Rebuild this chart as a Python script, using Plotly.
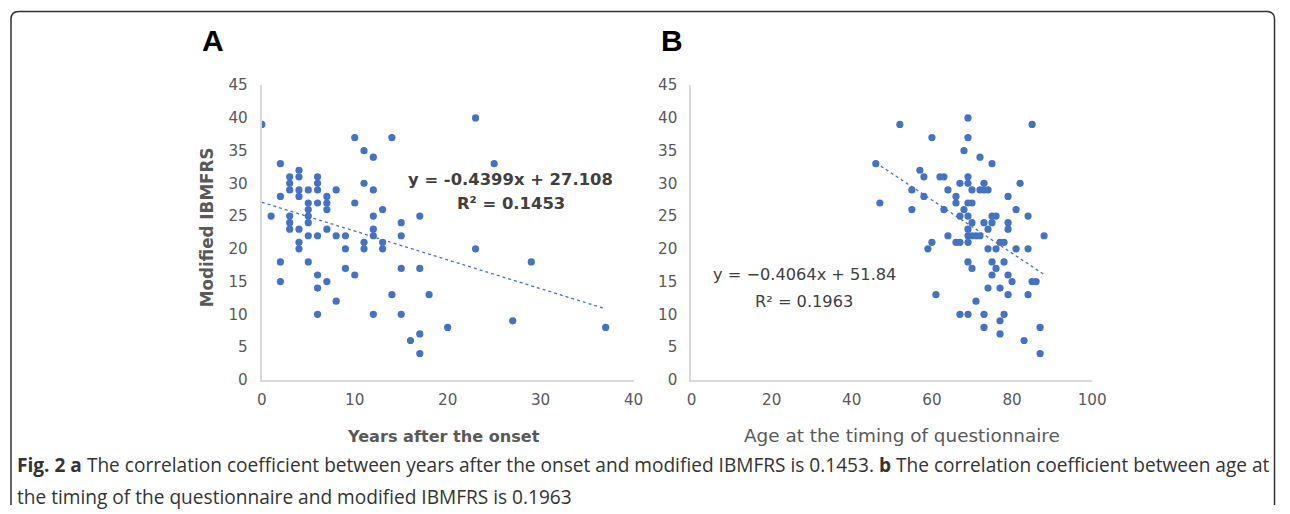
import plotly.graph_objects as go

W, H = 1290, 514
# calibration between figure pixels and the captured picture
SX, OX, SY, OY = 0.986, 4.0, 0.963, 9.0

# ---- Panel A data: years after onset vs modified IBMFRS ----
years_a = [0, 1, 2, 2, 2, 2, 3, 3, 3, 3, 3, 3, 4, 4, 4, 4, 4, 4, 4,
           5, 5, 5, 5, 5, 5, 5, 6, 6, 6, 6, 6, 6, 6, 6, 7, 7, 7, 7, 7,
           8, 8, 8, 9, 9, 9, 10, 10, 10, 11, 11, 11, 11, 12, 12, 12, 12, 12, 12,
           13, 13, 13, 14, 14, 15, 15, 15, 15, 16, 17, 17, 17, 17, 18, 20,
           23, 23, 25, 27, 29, 37]
score_a = [39, 25, 33, 28, 18, 15, 31, 30, 29, 25, 24, 23, 32, 31, 29, 28, 23, 21, 20,
           29, 27, 26, 25, 24, 22, 18, 31, 30, 29, 27, 22, 16, 14, 10, 28, 27, 26, 23, 15,
           29, 22, 12, 22, 20, 17, 37, 27, 16, 35, 30, 21, 20, 34, 29, 25, 23, 22, 10,
           26, 21, 20, 37, 13, 24, 22, 17, 10, 6, 25, 17, 7, 4, 13, 8,
           40, 20, 33, 9, 18, 8]
slope_a, intercept_a = -0.4399, 27.108

# ---- Panel B data: age at questionnaire vs modified IBMFRS ----
age_b = [46, 47, 52, 55, 55, 57, 58, 58, 59, 60, 60, 61, 62, 63, 63, 64, 64,
         66, 66, 66, 67, 67, 67, 67, 68, 68, 69, 69, 69, 69, 70, 69, 69, 69, 69, 69, 69, 69,
         70, 70, 70, 70, 71, 72, 71, 72, 72, 73, 74, 73, 73, 73, 73, 74, 74, 74,
         75, 75, 76, 75, 75, 75, 76, 76, 77, 78, 77, 77, 77, 78, 78,
         79, 79, 79, 79, 79, 80, 81, 81, 82, 83, 84, 84, 84, 85, 85, 86, 87, 87, 88]
score_b = [33, 27, 39, 29, 26, 32, 31, 28, 20, 37, 21, 13, 31, 31, 26, 29, 22,
           28, 27, 21, 21, 30, 25, 10, 35, 26, 40, 37, 31, 30, 27, 27, 25, 23, 22, 21, 18, 10,
           29, 24, 17, 22, 22, 22, 12, 34, 29, 29, 29, 30, 24, 10, 8, 23, 20, 14,
           33, 25, 25, 24, 18, 16, 20, 17, 21, 21, 14, 9, 7, 18, 10,
           28, 24, 23, 16, 13, 15, 26, 20, 30, 6, 25, 20, 13, 39, 15, 15, 8, 4, 22]
slope_b, intercept_b = -0.4064, 51.84

y_ticks = [0, 5, 10, 15, 20, 25, 30, 35, 40, 45]
x_ticks_a = [0, 10, 20, 30, 40]
x_ticks_b = [0, 20, 40, 60, 80, 100]

BLUE = "#4472C4"
TICK = "#595959"
AXL = "#D9D9D9"
XL = "DejaVu Sans"

fig = go.Figure()


def trend(xs, m, c):
    x0, x1 = min(xs), max(xs)
    return [x0, x1], [m * x0 + c, m * x1 + c]


fig.add_trace(go.Scatter(x=years_a, y=score_a, mode="markers",
                         marker=dict(color=BLUE, size=7.2), xaxis="x", yaxis="y",
                         showlegend=False, hoverinfo="skip"))
tx, ty = trend(years_a, slope_a, intercept_a)
fig.add_trace(go.Scatter(x=tx, y=ty, mode="lines",
                         line=dict(color=BLUE, width=1.3, dash="dot"),
                         xaxis="x", yaxis="y", showlegend=False, hoverinfo="skip"))

fig.add_trace(go.Scatter(x=age_b, y=score_b, mode="markers",
                         marker=dict(color=BLUE, size=7.2), xaxis="x2", yaxis="y2",
                         showlegend=False, hoverinfo="skip"))
tx, ty = trend(age_b, slope_b, intercept_b)
fig.add_trace(go.Scatter(x=tx, y=ty, mode="lines",
                         line=dict(color=BLUE, width=1.3, dash="dot"),
                         xaxis="x2", yaxis="y2", showlegend=False, hoverinfo="skip"))


def px(x):
    return ((x - OX) / SX) / W


def py(y):
    return 1 - ((y - OY) / SY) / H


tickfont = dict(family=XL, size=15.2, color=TICK)
common_x = dict(showgrid=False, zeroline=False, showline=True, linecolor=AXL, linewidth=2,
                ticks="", tickfont=tickfont, ticklabelstandoff=5, fixedrange=True)
common_y = dict(showgrid=False, zeroline=False, showline=True, linecolor=AXL, linewidth=2,
                ticks="", tickfont=tickfont, ticklabelstandoff=9, range=[0, 45],
                tickvals=y_ticks, fixedrange=True)

yd = [py(379), py(85)]
fig.update_layout(
    width=W, height=H, margin=dict(l=0, r=0, t=0, b=0),
    paper_bgcolor="white", plot_bgcolor="white", hovermode=False,
    xaxis=dict(domain=[px(261), px(633)], range=[0, 40], tickvals=x_ticks_a,
               anchor="y", **common_x),
    yaxis=dict(domain=yd, anchor="x", **common_y),
    xaxis2=dict(domain=[px(691), px(1092)], range=[0, 100], tickvals=x_ticks_b,
                anchor="y2", **common_x),
    yaxis2=dict(domain=yd, anchor="x2", **common_y),
)

ann = []
ann.append(dict(text="<b>Modified IBMFRS</b>", x=px(207), y=py(227), textangle=-90,
                font=dict(family=XL, size=16.8, color=TICK)))
ann.append(dict(text="<b>Years after the onset</b>", x=px(443), y=py(436),
                font=dict(family=XL, size=16.1, color=TICK)))
ann.append(dict(text="Age at the timing of questionnaire", x=px(902), y=py(435),
                font=dict(family=XL, size=18.4, color=TICK)))
ann.append(dict(text="<b>A</b>", x=px(212), y=py(40),
                font=dict(family="Liberation Sans, Arial", size=30, color="black")))
ann.append(dict(text="<b>B</b>", x=px(671), y=py(40),
                font=dict(family="Liberation Sans, Arial", size=30, color="black")))
eqA = dict(family=XL, size=16.4, color="#404040")
ann.append(dict(text="<b>y = -0.4399x + 27.108</b>", x=px(510), y=py(179), font=eqA))
ann.append(dict(text="<b>R² = 0.1453</b>", x=px(510), y=py(203), font=eqA))
eqB = dict(family=XL, size=16.2, color="#404040")
ann.append(dict(text="y = −0.4064x + 51.84", x=px(804), y=py(274), font=eqB))
ann.append(dict(text="R² = 0.1963", x=px(804), y=py(301), font=eqB))
capfont = dict(family="Open Sans", size=19.1, color="#333333")
ann.append(dict(text="<b>Fig. 2 a</b> The correlation coefficient between years after the onset and modified IBMFRS is 0.1453. "
                     "<b>b</b> The correlation coefficient between age at",
                x=px(14), y=py(464), xanchor="left", font=capfont))
ann.append(dict(text="the timing of the questionnaire and modified IBMFRS is 0.1963",
                x=px(14), y=py(496), xanchor="left", font=capfont))

for a in ann:
    a.setdefault("xref", "paper")
    a.setdefault("yref", "paper")
    a.setdefault("showarrow", False)
    a.setdefault("xanchor", "center")
    a.setdefault("yanchor", "middle")
fig.update_layout(annotations=ann)

# outer rounded border, kept inside the paper
x0, x1 = px(10), 1288.5 / W
yt, yb = py(11.5), 0.0
rx, ry = 8 / W, 8 / H
path = (f"M {x0},{yb} L {x0},{yt - ry} Q {x0},{yt} {x0 + rx},{yt} "
        f"L {x1 - rx},{yt} Q {x1},{yt} {x1},{yt - ry} L {x1},{yb}")
fig.add_shape(type="path", path=path, xref="paper", yref="paper",
              line=dict(color="#333333", width=1.5))

post = "document.body.style.margin='0';document.body.style.overflow='hidden';"
fig.write_html("out.html", post_script=post, config={"displayModeBar": False})
